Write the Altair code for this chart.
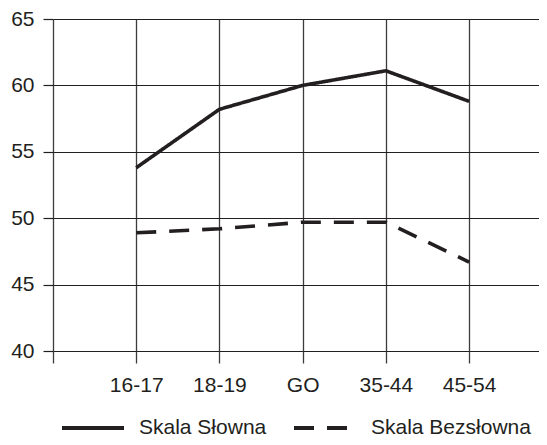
import json
import altair as alt
import pandas as pd

categories = ["16-17", "18-19", "GO", "35-44", "45-54"]
series_names = ["Skala Słowna", "Skala Bezsłowna"]
slowna = [53.8, 58.2, 60.0, 61.1, 58.8]
bezslowna = [48.9, 49.2, 49.7, 49.7, 46.7]

rows = []
for i, c in enumerate(categories):
    rows.append({"pos": i + 1, "cat": c, "series": series_names[0], "value": slowna[i]})
for i, c in enumerate(categories):
    rows.append({"pos": i + 1, "cat": c, "series": series_names[1], "value": bezslowna[i]})
df = pd.DataFrame(rows)

label_list = [""] + categories
label_expr = json.dumps(label_list) + "[datum.value] || ''"

INK = "#231f20"
GRID = "#3c3c3c"
FONT = "Liberation Sans"

chart = alt.Chart(df).mark_line(strokeWidth=3.6, color=INK, strokeCap="butt").encode(
    x=alt.X(
        "pos:Q",
        scale=alt.Scale(domain=[0, 5.84], nice=False, zero=False),
        axis=alt.Axis(
            values=[0, 1, 2, 3, 4, 5],
            labelExpr=label_expr,
            title=None,
            grid=True,
            gridColor=GRID,
            gridWidth=1.3,
            domain=False,
            ticks=True,
            tickSize=12,
            tickColor=GRID,
            tickWidth=1.3,
            labelFontSize=21,
            labelFont=FONT,
            labelColor=INK,
            labelPadding=11,
        ),
    ),
    y=alt.Y(
        "value:Q",
        scale=alt.Scale(domain=[40, 65], nice=False, zero=False),
        axis=alt.Axis(
            values=[40, 45, 50, 55, 60, 65],
            title=None,
            grid=True,
            gridColor=INK,
            gridWidth=1.2,
            domain=False,
            ticks=True,
            tickSize=10,
            tickColor=INK,
            tickWidth=1.2,
            labelFontSize=21,
            labelFont=FONT,
            labelColor=INK,
            labelPadding=9,
        ),
    ),
    strokeDash=alt.StrokeDash(
        "series:N",
        scale=alt.Scale(domain=series_names, range=[[1, 0], [20, 13]]),
        legend=alt.Legend(
            title=None,
            orient="none",
            direction="horizontal",
            legendX=7,
            legendY=376,
            symbolType="stroke",
            symbolSize=3844,
            symbolStrokeWidth=4,
            symbolStrokeColor=INK,
            labelFontSize=21,
            labelFont=FONT,
            labelColor=INK,
            labelOffset=13,
            labelLimit=400,
            columnPadding=19,
            padding=0,
        ),
    ),
    detail="series:N",
).properties(
    width=486,
    height=332,
    padding={"left": 45, "top": 11, "right": 0, "bottom": 86},
    autosize=alt.AutoSizeParams(type="none"),
).configure_view(stroke=None)

chart.save("out.html", embed_options={"renderer": "svg", "actions": False})
